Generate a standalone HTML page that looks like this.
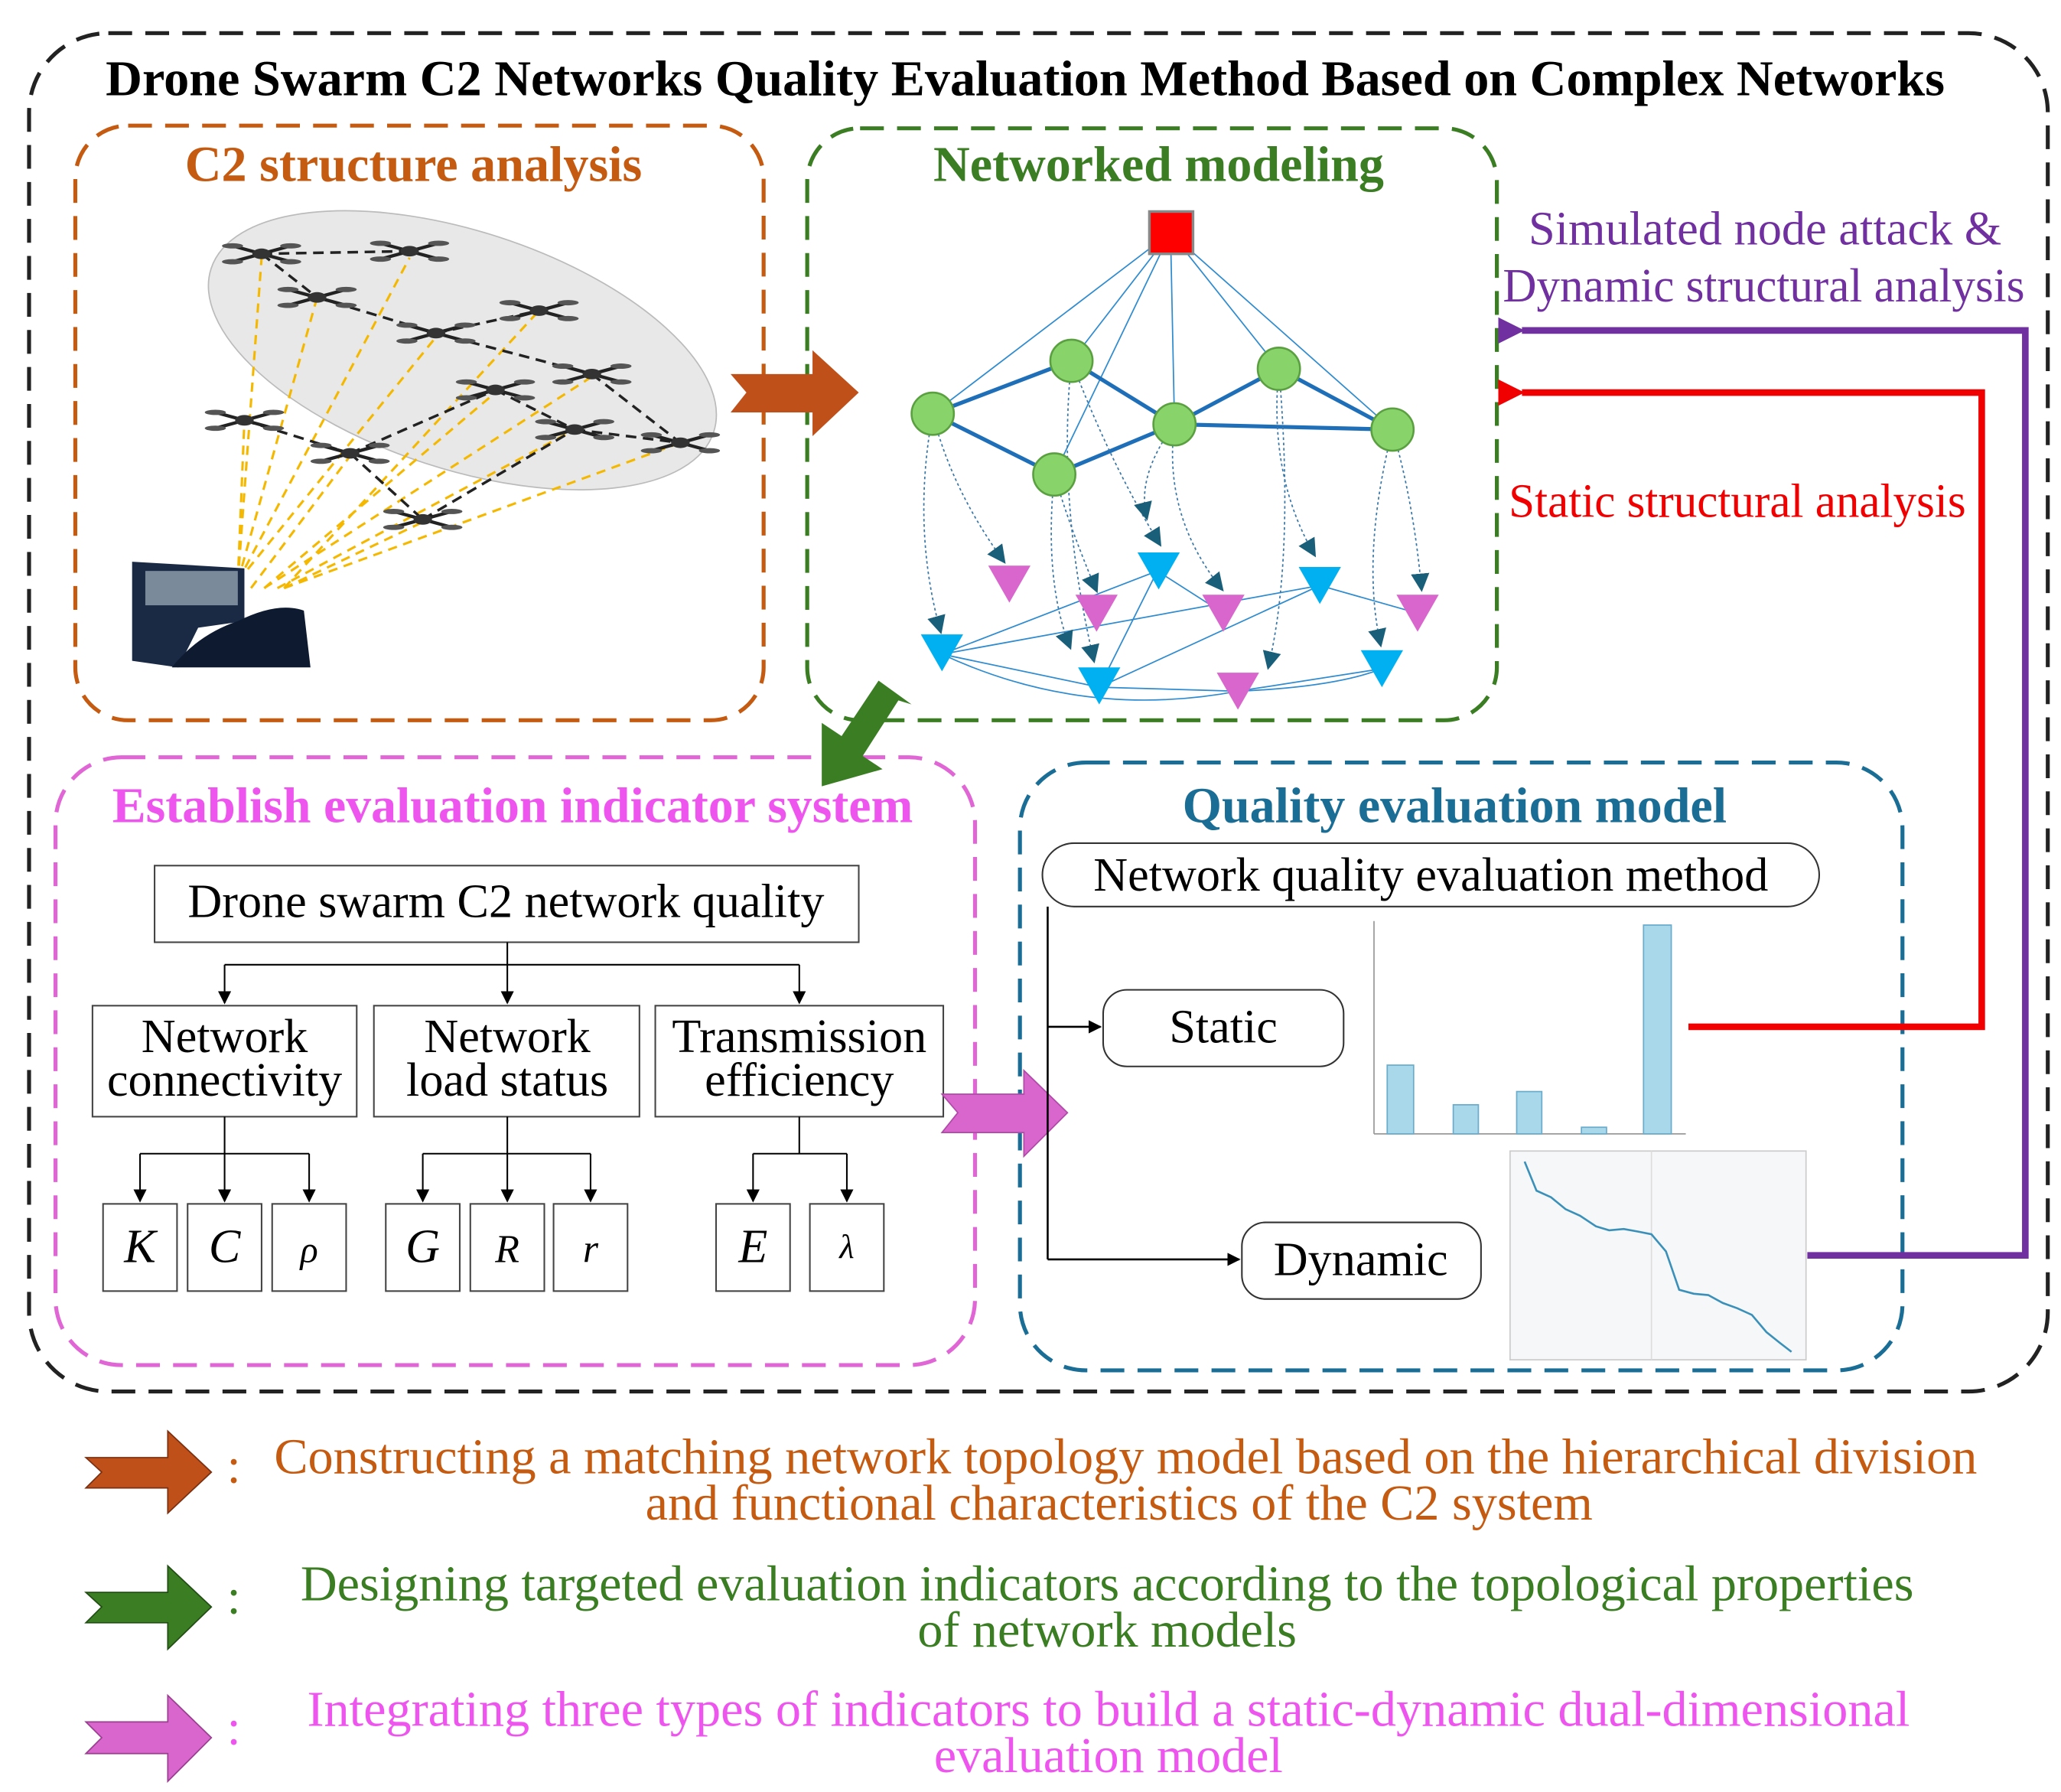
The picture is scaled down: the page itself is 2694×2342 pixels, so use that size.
<!DOCTYPE html>
<html><head><meta charset="utf-8"><style>html,body{margin:0;padding:0;background:#fff}svg{display:block}</style></head>
<body>
<svg xmlns="http://www.w3.org/2000/svg" width="2694" height="2342" viewBox="0 0 1560 1356" font-family="Liberation Serif, serif">
<defs>
<marker id="ab" markerWidth="10" markerHeight="10" refX="9" refY="5" orient="auto" markerUnits="userSpaceOnUse"><path d="M0,0 L10,5 L0,10 z" fill="#000"/></marker>
<marker id="ad" markerWidth="14" markerHeight="14" refX="12" refY="7" orient="auto" markerUnits="userSpaceOnUse"><path d="M0,0 L14,7 L0,14 z" fill="#1a5f7a"/></marker>
<marker id="ap" markerWidth="20" markerHeight="20" refX="2" refY="10" orient="auto" markerUnits="userSpaceOnUse"><path d="M20,0 L0,10 L20,20 z" fill="#7030a0"/></marker>
<marker id="ar" markerWidth="20" markerHeight="20" refX="2" refY="10" orient="auto" markerUnits="userSpaceOnUse"><path d="M20,0 L0,10 L20,20 z" fill="#f00000"/></marker>
<g id="drone"><line x1="-22" y1="-6" x2="22" y2="6" stroke="#222" stroke-width="2.5"/><line x1="-22" y1="6" x2="22" y2="-6" stroke="#222" stroke-width="2.5"/><ellipse cx="0" cy="0" rx="7" ry="4" fill="#333"/><ellipse cx="-22" cy="-6" rx="8" ry="2" fill="#555"/><ellipse cx="22" cy="6" rx="8" ry="2" fill="#555"/><ellipse cx="-22" cy="6" rx="8" ry="2" fill="#555"/><ellipse cx="22" cy="-6" rx="8" ry="2" fill="#555"/></g>
<path id="tc" d="M-16,-14 L16,-14 L0,14 z" fill="#00b0f0"/>
<path id="tp" d="M-16,-14 L16,-14 L0,14 z" fill="#d966cc"/>
</defs>

<rect x="22" y="25" width="1528" height="1028" rx="60" fill="none" stroke="#222" stroke-width="3" stroke-dasharray="18 10"/>
<text x="776" y="72" text-anchor="middle" font-size="38" font-weight="bold" textLength="1392" lengthAdjust="spacingAndGlyphs">Drone Swarm C2 Networks Quality Evaluation Method Based on Complex Networks</text>

<rect x="57" y="95" width="521" height="450" rx="40" fill="none" stroke="#c55a11" stroke-width="3" stroke-dasharray="18 10"/>
<text x="313" y="137" text-anchor="middle" font-size="38" font-weight="bold" fill="#c55a11" textLength="346" lengthAdjust="spacingAndGlyphs">C2 structure analysis</text>
<rect x="611" y="97" width="522" height="448" rx="40" fill="none" stroke="#3a7d22" stroke-width="3" stroke-dasharray="18 10"/>
<text x="877" y="137" text-anchor="middle" font-size="38" font-weight="bold" fill="#3a7d22" textLength="341" lengthAdjust="spacingAndGlyphs">Networked modeling</text>
<rect x="42" y="573" width="696" height="460" rx="50" fill="none" stroke="#e066d6" stroke-width="3" stroke-dasharray="18 10"/>
<text x="388" y="622" text-anchor="middle" font-size="38" font-weight="bold" fill="#ee55ee" textLength="606" lengthAdjust="spacingAndGlyphs">Establish evaluation indicator system</text>
<rect x="772" y="577" width="668" height="460" rx="50" fill="none" stroke="#1a6e96" stroke-width="3" stroke-dasharray="18 10"/>
<text x="1101" y="622" text-anchor="middle" font-size="38" font-weight="bold" fill="#1a6e96" textLength="412" lengthAdjust="spacingAndGlyphs">Quality evaluation model</text>

<ellipse cx="350" cy="265" rx="200" ry="90" transform="rotate(18 350 265)" fill="#e8e8e8" stroke="#bbb"/>
<g stroke="#f5b800" stroke-width="1.8" stroke-dasharray="7 5">
<line x1="180" y1="440" x2="198" y2="195"/><line x1="180" y1="440" x2="310" y2="195"/><line x1="180" y1="440" x2="240" y2="225"/><line x1="180" y1="440" x2="185" y2="318"/><line x1="180" y1="440" x2="330" y2="255"/><line x1="190" y1="445" x2="265" y2="345"/><line x1="200" y1="445" x2="375" y2="297"/><line x1="200" y1="445" x2="448" y2="285"/><line x1="210" y1="445" x2="435" y2="325"/><line x1="215" y1="445" x2="515" y2="335"/><line x1="215" y1="445" x2="320" y2="395"/><line x1="215" y1="445" x2="408" y2="235"/>
</g>
<g stroke="#222" stroke-width="2" stroke-dasharray="8 5" fill="none">
<line x1="198" y1="192" x2="310" y2="190"/><line x1="198" y1="192" x2="240" y2="225"/><line x1="240" y1="225" x2="330" y2="252"/><line x1="330" y1="252" x2="408" y2="235"/><line x1="330" y1="252" x2="448" y2="283"/><line x1="448" y1="283" x2="515" y2="335"/><line x1="375" y1="295" x2="435" y2="325"/><line x1="185" y1="318" x2="265" y2="343"/><line x1="265" y1="343" x2="320" y2="393"/><line x1="320" y1="393" x2="435" y2="325"/><line x1="265" y1="343" x2="375" y2="295"/><line x1="435" y1="325" x2="515" y2="335"/>
</g>
<use href="#drone" x="198" y="192"/><use href="#drone" x="310" y="190"/><use href="#drone" x="240" y="225"/><use href="#drone" x="330" y="252"/><use href="#drone" x="408" y="235"/><use href="#drone" x="448" y="283"/><use href="#drone" x="375" y="295"/><use href="#drone" x="185" y="318"/><use href="#drone" x="265" y="343"/><use href="#drone" x="435" y="325"/><use href="#drone" x="515" y="335"/><use href="#drone" x="320" y="393"/>
<path d="M100,425 L185,430 L185,470 L150,475 L135,505 L100,500 z" fill="#1b2a44"/>
<rect x="110" y="432" width="70" height="26" fill="#7a8a9a"/>
<path d="M180,470 Q210,455 230,462 L235,505 L130,505 Q150,480 180,470 z" fill="#0e1a30"/>

<path d="M553,283 L615,283 L615,265 L650,297 L615,330 L615,312 L553,312 L565,297 z" fill="#c0501a"/>

<g stroke="#2e8bd0" stroke-width="1" fill="none">
<line x1="886" y1="176" x2="706" y2="313"/><line x1="886" y1="176" x2="811" y2="273"/><line x1="886" y1="176" x2="968" y2="279"/><line x1="886" y1="176" x2="889" y2="321"/><line x1="886" y1="176" x2="798" y2="359"/><line x1="886" y1="176" x2="1054" y2="325"/>
<line x1="713" y1="495" x2="832" y2="520"/><line x1="713" y1="495" x2="876" y2="432"/><line x1="713" y1="495" x2="999" y2="443"/><line x1="832" y1="520" x2="999" y2="443"/><line x1="832" y1="520" x2="937" y2="523"/><line x1="937" y1="523" x2="1046" y2="506"/><line x1="832" y1="520" x2="876" y2="432"/><line x1="876" y1="432" x2="926" y2="464"/><line x1="999" y1="443" x2="1073" y2="464"/>
<path d="M713,495 Q820,545 937,523 Q1010,520 1046,506"/>
</g>
<g stroke="#1f6fb8" stroke-width="3" fill="none">
<line x1="706" y1="313" x2="811" y2="273"/><line x1="811" y1="273" x2="889" y2="321"/><line x1="889" y1="321" x2="968" y2="279"/><line x1="968" y1="279" x2="1054" y2="325"/><line x1="889" y1="321" x2="1054" y2="325"/><line x1="706" y1="313" x2="798" y2="359"/><line x1="798" y1="359" x2="889" y2="321"/>
</g>
<g stroke="#3a78a8" stroke-width="1" stroke-dasharray="2 2" fill="none">
<path d="M706,313 Q690,400 712,478" marker-end="url(#ad)"/><path d="M706,313 Q720,370 760,425" marker-end="url(#ad)"/><path d="M811,273 Q800,380 828,500" marker-end="url(#ad)"/><path d="M798,359 Q810,400 830,447" marker-end="url(#ad)"/><path d="M811,273 Q840,350 878,412" marker-end="url(#ad)"/><path d="M889,321 Q880,390 925,446" marker-end="url(#ad)"/><path d="M889,321 Q860,360 868,392" marker-end="url(#ad)"/><path d="M968,279 Q960,360 995,420" marker-end="url(#ad)"/><path d="M968,279 Q980,420 960,505" marker-end="url(#ad)"/><path d="M1054,325 Q1030,420 1045,488" marker-end="url(#ad)"/><path d="M1054,325 Q1070,380 1076,446" marker-end="url(#ad)"/><path d="M798,359 Q790,440 810,490" marker-end="url(#ad)"/>
</g>
<rect x="870" y="160" width="33" height="32" fill="#f00" stroke="#888" stroke-width="2"/>
<g fill="#88d46a" stroke="#5aa040" stroke-width="1.5">
<circle cx="706" cy="313" r="16"/><circle cx="811" cy="273" r="16"/><circle cx="968" cy="279" r="16"/><circle cx="889" cy="321" r="16"/><circle cx="798" cy="359" r="16"/><circle cx="1054" cy="325" r="16"/>
</g>
<use href="#tp" x="764" y="442"/><use href="#tp" x="830" y="464"/><use href="#tc" x="877" y="432"/><use href="#tp" x="926" y="464"/><use href="#tc" x="999" y="443"/><use href="#tp" x="1073" y="464"/><use href="#tc" x="713" y="494"/><use href="#tc" x="832" y="519"/><use href="#tp" x="937" y="523"/><use href="#tc" x="1046" y="506"/>

<path d="M690,533 L665,515 L637,557 L622,547 L622,595 L668,582 L653,572 L680,530 z" fill="#3a7d22"/>

<polyline points="1368,950 1533,950 1533,250 1152,250" fill="none" stroke="#7030a0" stroke-width="5" marker-end="url(#ap)"/>
<polyline points="1278,777 1500,777 1500,297 1152,297" fill="none" stroke="#f00000" stroke-width="5" marker-end="url(#ar)"/>
<text x="1157" y="185" font-size="36" fill="#7030a0" textLength="358" lengthAdjust="spacingAndGlyphs">Simulated node attack  &amp;</text>
<text x="1335" y="228" text-anchor="middle" font-size="36" fill="#7030a0" textLength="395" lengthAdjust="spacingAndGlyphs">Dynamic structural analysis</text>
<text x="1315" y="391" text-anchor="middle" font-size="36" fill="#f00000" textLength="346" lengthAdjust="spacingAndGlyphs">Static structural analysis</text>

<g fill="none" stroke="#444" stroke-width="1.2">
<rect x="117" y="655" width="533" height="58" fill="#fff"/>
<rect x="70" y="761" width="200" height="84"/><rect x="283" y="761" width="201" height="84"/><rect x="496" y="761" width="218" height="84"/>
<rect x="78" y="911" width="56" height="66"/><rect x="142" y="911" width="56" height="66"/><rect x="206" y="911" width="56" height="66"/>
<rect x="292" y="911" width="56" height="66"/><rect x="356" y="911" width="56" height="66"/><rect x="419" y="911" width="56" height="66"/>
<rect x="542" y="911" width="56" height="66"/><rect x="613" y="911" width="56" height="66"/>
</g>
<g stroke="#000" stroke-width="1.2" fill="none">
<line x1="384" y1="713" x2="384" y2="730"/><line x1="170" y1="730" x2="605" y2="730"/>
<line x1="170" y1="730" x2="170" y2="759" marker-end="url(#ab)"/><line x1="384" y1="730" x2="384" y2="759" marker-end="url(#ab)"/><line x1="605" y1="730" x2="605" y2="759" marker-end="url(#ab)"/>
<line x1="170" y1="845" x2="170" y2="873"/><line x1="106" y1="873" x2="234" y2="873"/>
<line x1="106" y1="873" x2="106" y2="909" marker-end="url(#ab)"/><line x1="170" y1="873" x2="170" y2="909" marker-end="url(#ab)"/><line x1="234" y1="873" x2="234" y2="909" marker-end="url(#ab)"/>
<line x1="384" y1="845" x2="384" y2="873"/><line x1="320" y1="873" x2="447" y2="873"/>
<line x1="320" y1="873" x2="320" y2="909" marker-end="url(#ab)"/><line x1="384" y1="873" x2="384" y2="909" marker-end="url(#ab)"/><line x1="447" y1="873" x2="447" y2="909" marker-end="url(#ab)"/>
<line x1="605" y1="845" x2="605" y2="873"/><line x1="570" y1="873" x2="641" y2="873"/>
<line x1="570" y1="873" x2="570" y2="909" marker-end="url(#ab)"/><line x1="641" y1="873" x2="641" y2="909" marker-end="url(#ab)"/>
</g>
<g font-size="36" text-anchor="middle">
<text x="383" y="694">Drone swarm C2 network quality</text>
<text x="170" y="796">Network</text><text x="170" y="829">connectivity</text>
<text x="384" y="796">Network</text><text x="384" y="829">load status</text>
<text x="605" y="796">Transmission</text><text x="605" y="829">efficiency</text>
<g font-style="italic"><text x="106" y="955">K</text><text x="170" y="955">C</text><text x="234" y="955" font-size="28">ρ</text><text x="320" y="955">G</text><text x="384" y="955" font-size="30">R</text><text x="447" y="955" font-size="30">r</text><text x="570" y="955">E</text><text x="641" y="952" font-size="26">λ</text></g>
</g>

<path d="M713,828 L775,828 L775,810 L808,842 L775,875 L775,857 L713,857 L725,842 z" fill="#d966cc" stroke="#b04aa8" stroke-width="1"/>

<rect x="789" y="638" width="588" height="48" rx="24" fill="#fff" stroke="#333" stroke-width="1.2"/>
<text x="1083" y="674" text-anchor="middle" font-size="36">Network quality evaluation method</text>
<rect x="835" y="749" width="182" height="58" rx="18" fill="#fff" stroke="#333" stroke-width="1.2"/>
<text x="926" y="789" text-anchor="middle" font-size="36">Static</text>
<rect x="940" y="925" width="181" height="58" rx="18" fill="#fff" stroke="#333" stroke-width="1.2"/>
<text x="1030" y="965" text-anchor="middle" font-size="36">Dynamic</text>
<g stroke="#000" stroke-width="1.5" fill="none">
<line x1="793" y1="686" x2="793" y2="953"/>
<line x1="793" y1="777" x2="833" y2="777" marker-end="url(#ab)"/>
<line x1="793" y1="953" x2="938" y2="953" marker-end="url(#ab)"/>
</g>
<line x1="1040" y1="697" x2="1040" y2="858" stroke="#999"/><line x1="1040" y1="858" x2="1276" y2="858" stroke="#999"/>
<g fill="#a8d8ea" stroke="#6aaccc">
<rect x="1050" y="806" width="20" height="52"/><rect x="1100" y="836" width="19" height="22"/><rect x="1148" y="826" width="19" height="32"/><rect x="1197" y="853" width="19" height="5"/><rect x="1244" y="700" width="21" height="158"/>
</g>
<rect x="1143" y="871" width="224" height="158" fill="#f6f7f9" stroke="#ccc"/>
<line x1="1250" y1="871" x2="1250" y2="1029" stroke="#ddd"/>
<polyline points="1154,879 1163,901 1174,906 1185,915 1196,920 1208,928 1218,931 1229,930 1240,932 1250,934 1261,947 1271,976 1282,979 1293,980 1304,986 1315,990 1326,995 1337,1008 1347,1016 1356,1023" fill="none" stroke="#3a90b8" stroke-width="1.5"/>

<path d="M65,1103 L127,1103 L127,1083 L160,1114 L127,1145 L127,1126 L65,1126 L77,1114 z" fill="#c0501a" stroke="#7a3010"/>
<path d="M65,1205 L127,1205 L127,1185 L160,1216 L127,1248 L127,1228 L65,1228 L77,1216 z" fill="#3a7d22" stroke="#224d14"/>
<path d="M65,1303 L127,1303 L127,1283 L160,1315 L127,1348 L127,1327 L65,1327 L77,1315 z" fill="#d966cc" stroke="#9a3e90"/>
<g font-size="38" text-anchor="middle" lengthAdjust="spacingAndGlyphs">
<text x="177" y="1122" fill="#c55a11">:</text>
<text x="852" y="1115" fill="#c55a11" textLength="1289" lengthAdjust="spacingAndGlyphs">Constructing a matching network topology model based on the hierarchical division</text>
<text x="847" y="1150" fill="#c55a11" textLength="717" lengthAdjust="spacingAndGlyphs">and functional characteristics of the C2 system</text>
<text x="177" y="1221" fill="#3a7d22">:</text>
<text x="838" y="1211" fill="#3a7d22" textLength="1221" lengthAdjust="spacingAndGlyphs">Designing targeted evaluation indicators according to the topological properties</text>
<text x="838" y="1246" fill="#3a7d22" textLength="287" lengthAdjust="spacingAndGlyphs">of network models</text>
<text x="177" y="1320" fill="#ee55ee">:</text>
<text x="839" y="1306" fill="#ee55ee" textLength="1213" lengthAdjust="spacingAndGlyphs">Integrating three types of indicators to build a static-dynamic dual-dimensional</text>
<text x="839" y="1341" fill="#ee55ee" textLength="264" lengthAdjust="spacingAndGlyphs">evaluation model</text>
</g>
</svg>
</body></html>
